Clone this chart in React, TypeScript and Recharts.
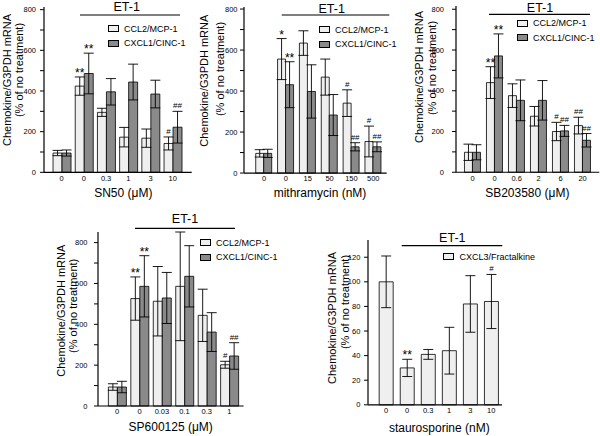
import React from 'react';
import { BarChart, Bar, XAxis, YAxis, ErrorBar, Legend, LabelList } from 'recharts';

const FONT = '"Liberation Sans", Arial, Helvetica, sans-serif';
const LIGHT = '#efefef';
const DARK = '#8a8a8a';

// ---- Panel 1: SN50 ----
const sn50Doses = ['0', '0', '0.3', '1', '3', '10'];
const sn50Ccl2 = [95, 424, 295, 173, 168, 142];
const sn50Ccl2Err = [13, 45, 20, 48, 45, 32];
const sn50Cxcl1 = [95, 486, 396, 444, 385, 222];
const sn50Cxcl1Err = [15, 100, 65, 88, 68, 78];
const sn50Ccl2Sig = ['', '**', '', '', '', '#'];
const sn50Cxcl1Sig = ['', '**', '', '', '', '##'];

// ---- Panel 2: mithramycin ----
const mithDoses = ['0', '0', '15', '50', '150', '500'];
const mithCcl2 = [96, 556, 634, 468, 341, 154];
const mithCcl2Err = [18, 100, 60, 88, 65, 75];
const mithCxcl1 = [96, 431, 398, 283, 128, 128];
const mithCxcl1Err = [20, 112, 130, 100, 20, 24];
const mithCcl2Sig = ['', '*', '', '', '#', '#'];
const mithCxcl1Sig = ['', '**', '', '', '##', '##'];

// ---- Panel 3: SB203580 ----
const sbDoses = ['0', '0', '0.6', '2', '6', '20'];
const sbCcl2 = [98, 440, 376, 275, 200, 229];
const sbCcl2Err = [40, 78, 58, 48, 45, 41];
const sbCxcl1 = [98, 571, 353, 353, 203, 157];
const sbCxcl1Err = [37, 108, 100, 97, 27, 33];
const sbCcl2Sig = ['', '**', '', '', '#', '##'];
const sbCxcl1Sig = ['', '**', '', '', '##', '##'];

// ---- Panel 4: SP600125 ----
const spDoses = ['0', '0', '0.03', '0.1', '0.3', '1'];
const spCcl2 = [93, 526, 513, 586, 444, 202];
const spCcl2Err = [16, 106, 170, 266, 128, 17];
const spCxcl1 = [93, 586, 529, 635, 362, 245];
const spCxcl1Err = [28, 150, 125, 150, 95, 65];
const spCcl2Sig = ['', '**', '', '', '', '#'];
const spCxcl1Sig = ['', '**', '', '', '', '##'];

// ---- Panel 5: staurosporine ----
const stDoses = ['0', '0', '0.3', '1', '3', '10'];
const stCx3 = [100, 30, 41, 44, 82, 84];
const stCx3Err = [21, 7, 4, 19, 23, 22];
const stCx3Sig = ['', '**', '', '', '', '#'];

const ticks800 = [0, 100, 200, 300, 400, 500, 600, 700, 800];
const ticks120 = [0, 20, 40, 60, 80, 100, 120];

const twoSeries = (cats: string[], a: number[], ae: number[], as: string[], b: number[], be: number[], bs: string[]) =>
  cats.map((name, i) => ({ name, a: a[i], ae: ae[i], as: as[i], b: b[i], be: be[i], bs: bs[i] }));

const rows1 = twoSeries(sn50Doses, sn50Ccl2, sn50Ccl2Err, sn50Ccl2Sig, sn50Cxcl1, sn50Cxcl1Err, sn50Cxcl1Sig);
const rows2 = twoSeries(mithDoses, mithCcl2, mithCcl2Err, mithCcl2Sig, mithCxcl1, mithCxcl1Err, mithCxcl1Sig);
const rows3 = twoSeries(sbDoses, sbCcl2, sbCcl2Err, sbCcl2Sig, sbCxcl1, sbCxcl1Err, sbCxcl1Sig);
const rows4 = twoSeries(spDoses, spCcl2, spCcl2Err, spCcl2Sig, spCxcl1, spCxcl1Err, spCxcl1Sig);
const rows5 = stDoses.map((name, i) => ({ name, a: stCx3[i], ae: stCx3Err[i], as: stCx3Sig[i] }));

const pairSeries = [
  { key: 'a', err: 'ae', sig: 'as', name: 'CCL2/MCP-1', fill: LIGHT },
  { key: 'b', err: 'be', sig: 'bs', name: 'CXCL1/CINC-1', fill: DARK },
];
const singleSeries = [{ key: 'a', err: 'ae', sig: 'as', name: 'CXCL3/Fractalkine', fill: LIGHT }];

const sigLabel = (rows: any[], valKey: string, errKey: string) => (p: any) => {
  const value = p.value;
  if (!value) return null;
  const vb = p.viewBox || p;
  const x = p.x ?? vb.x;
  const y = p.y ?? vb.y;
  const width = p.width ?? vb.width;
  const height = p.height ?? vb.height;
  const row = rows[p.index];
  if (!row) return null;
  const k = Math.abs(height) / row[valKey];
  const top = y - row[errKey] * k;
  const star = String(value).includes('*');
  return (
    <text
      x={x + width / 2}
      y={star ? top + 0 : top - 3}
      textAnchor="middle"
      fontSize={star ? 12 : 8}
      fontFamily={FONT}
      fill="#000"
    >
      {value}
    </text>
  );
};

const LegendContent = (props: any) => {
  const payload = props.payload || [];
  return (
    <div style={{ fontFamily: FONT, fontSize: 9, color: '#000' }}>
      {payload.map((e: any, i: number) => (
        <div key={i} style={{ display: 'flex', alignItems: 'center', height: 14.5, whiteSpace: 'nowrap' }}>
          <span
            style={{
              display: 'inline-block',
              width: 11,
              height: 7,
              border: '1px solid #000',
              background: e.color,
              marginRight: 5,
              boxSizing: 'border-box',
            }}
          />
          {e.value}
        </div>
      ))}
    </div>
  );
};

type Geo = {
  axisX: number; right: number; y0: number; refVal: number; refY: number; domainMax: number;
  ticks: number[]; labelStep: number; padL: number; padR: number; gap: string; tickMargin: number;
  legX: number; legY: number;
};

function Panel({ rows, series, g }: { rows: any[]; series: any[]; g: Geo }) {
  const ppu = (g.y0 - g.refY) / g.refVal;
  const topPx = g.y0 - g.domainMax * ppu;
  const yW = 34, mt = 6, mr = 4, xH = 16;
  const left = g.axisX - yW;
  const top = topPx - mt;
  const width = yW + (g.right - g.axisX) + mr;
  const height = mt + (g.y0 - topPx) + xH;
  return (
    <div style={{ position: 'absolute', left, top }}>
      <BarChart
        width={width}
        height={height}
        data={rows}
        margin={{ top: mt, right: mr, left: 0, bottom: 0 }}
        barCategoryGap={g.gap}
        barGap={0}
      >
        <XAxis
          dataKey="name"
          height={xH}
          axisLine={{ stroke: '#000', strokeWidth: 1.2 }}
          tickLine={false}
          tickSize={3}
          tickMargin={0}
          interval={0}
          padding={{ left: g.padL, right: g.padR }}
          tick={{ fontSize: 7.5, fill: '#000', fontFamily: FONT }}
        />
        <YAxis
          width={yW}
          domain={[0, g.domainMax]}
          ticks={g.ticks}
          interval={0}
          tickFormatter={(v: number) => (v % g.labelStep === 0 ? String(v) : '')}
          axisLine={{ stroke: '#000', strokeWidth: 1.2 }}
          tickLine={{ stroke: '#000' }}
          tickSize={4}
          tickMargin={g.tickMargin}
          tick={{ fontSize: 7.5, fill: '#000', fontFamily: FONT }}
        />
        {series.map((s) => (
          <Bar key={s.key} dataKey={s.key} name={s.name} fill={s.fill} stroke="#000" strokeWidth={0.8} isAnimationActive={false}>
            <ErrorBar dataKey={s.err} width={5} stroke="#000" strokeWidth={0.9} direction="y" />
            <LabelList dataKey={s.sig} content={sigLabel(rows, s.key, s.err)} />
          </Bar>
        ))}
        <Legend
          layout="vertical"
          align="center"
          verticalAlign="middle"
          content={LegendContent}
          wrapperStyle={{ left: g.legX - left, top: g.legY - 7.25 - top, width: 110, height: 30 }}
        />
      </BarChart>
    </div>
  );
}

const geo1: Geo = { axisX: 44, right: 191.7, y0: 172.7, refVal: 800, refY: 10, domainMax: 813, ticks: ticks800, labelStep: 200, padL: 6.6, padR: 7.9, gap: '11%', tickMargin: 4, legX: 108, legY: 29 };
const geo2: Geo = { axisX: 244, right: 386.7, y0: 173.3, refVal: 800, refY: 9.3, domainMax: 810, ticks: ticks800, labelStep: 200, padL: 9.1, padR: 2.5, gap: '12%', tickMargin: 2.5, legX: 319, legY: 29.7 };
const geo3: Geo = { axisX: 455.7, right: 599, y0: 172.3, refVal: 800, refY: 9.3, domainMax: 816, ticks: ticks800, labelStep: 200, padL: 5.6, padR: 5.7, gap: '13%', tickMargin: 8, legX: 517, legY: 23.5 };
const geo4: Geo = { axisX: 97.7, right: 243.3, y0: 405.7, refVal: 800, refY: 242.3, domainMax: 852, ticks: ticks800, labelStep: 200, padL: 7.8, padR: 3.1, gap: '11.5%', tickMargin: 6.5, legX: 200, legY: 242.7 };
const geo5: Geo = { axisX: 367.7, right: 501.7, y0: 405.3, refVal: 120, refY: 257.7, domainMax: 134, ticks: ticks120, labelStep: 20, padL: 7.5, padR: 0.2, gap: '17.5%', tickMargin: 3.7, legX: 443.5, legY: 256.7 };

const ylab = (x1: number, y1: number, x2: number, y2: number) => (
  <g fontFamily={FONT} fontSize={11} fill="#000">
    <text x={x1} y={y1} textAnchor="middle" dominantBaseline="central" transform={`rotate(-90 ${x1} ${y1})`}>Chemokine/G3PDH mRNA</text>
    <text x={x2} y={y2} textAnchor="middle" dominantBaseline="central" transform={`rotate(-90 ${x2} ${y2})`}>(% of no treatment)</text>
  </g>
);

const et = (cx: number, cy: number, x1: number, x2: number, ly: number) => (
  <g>
    <text x={cx} y={cy} textAnchor="middle" dominantBaseline="central" fontFamily={FONT} fontSize={12.5} fill="#000">ET-1</text>
    <line x1={x1} x2={x2} y1={ly} y2={ly} stroke="#000" strokeWidth={1.2} />
  </g>
);

const xlab = (cx: number, cy: number, t: string) => (
  <text x={cx} y={cy} textAnchor="middle" dominantBaseline="central" fontFamily={FONT} fontSize={12} fill="#000">{t}</text>
);

export default function App() {
  return (
    <div style={{ position: 'absolute', left: 0, top: 0, width: 600, height: 436, background: '#fff', overflow: 'hidden' }}>
      <Panel rows={rows1} series={pairSeries} g={geo1} />
      <Panel rows={rows2} series={pairSeries} g={geo2} />
      <Panel rows={rows3} series={pairSeries} g={geo3} />
      <Panel rows={rows4} series={pairSeries} g={geo4} />
      <Panel rows={rows5} series={singleSeries} g={geo5} />
      <svg width={600} height={436} style={{ position: 'absolute', left: 0, top: 0, pointerEvents: 'none' }}>
        {ylab(7.3, 80, 19.3, 70)}
        {ylab(204, 80.7, 220, 69)}
        {ylab(419, 77, 431.7, 68)}
        {ylab(60.7, 310.7, 73.3, 305.8)}
        {ylab(331.7, 318, 345, 302)}
        {et(126.7, 6.7, 80, 180, 15)}
        {et(331.7, 9, 281.7, 389.3, 15)}
        {et(540, 8.3, 489, 590, 14.3)}
        {et(185, 219, 135, 235, 228.3)}
        {et(452.3, 238.3, 401.7, 502.3, 245.7)}
        {xlab(123.3, 193.3, 'SN50 (\u03bcM)')}
        {xlab(320, 193.3, 'mithramycin (nM)')}
        {xlab(527.3, 193.3, 'SB203580 (\u03bcM)')}
        {xlab(170.7, 427.3, 'SP600125 (\u03bcM)')}
        {xlab(439.3, 428.3, 'staurosporine (nM)')}
      </svg>
    </div>
  );
}
